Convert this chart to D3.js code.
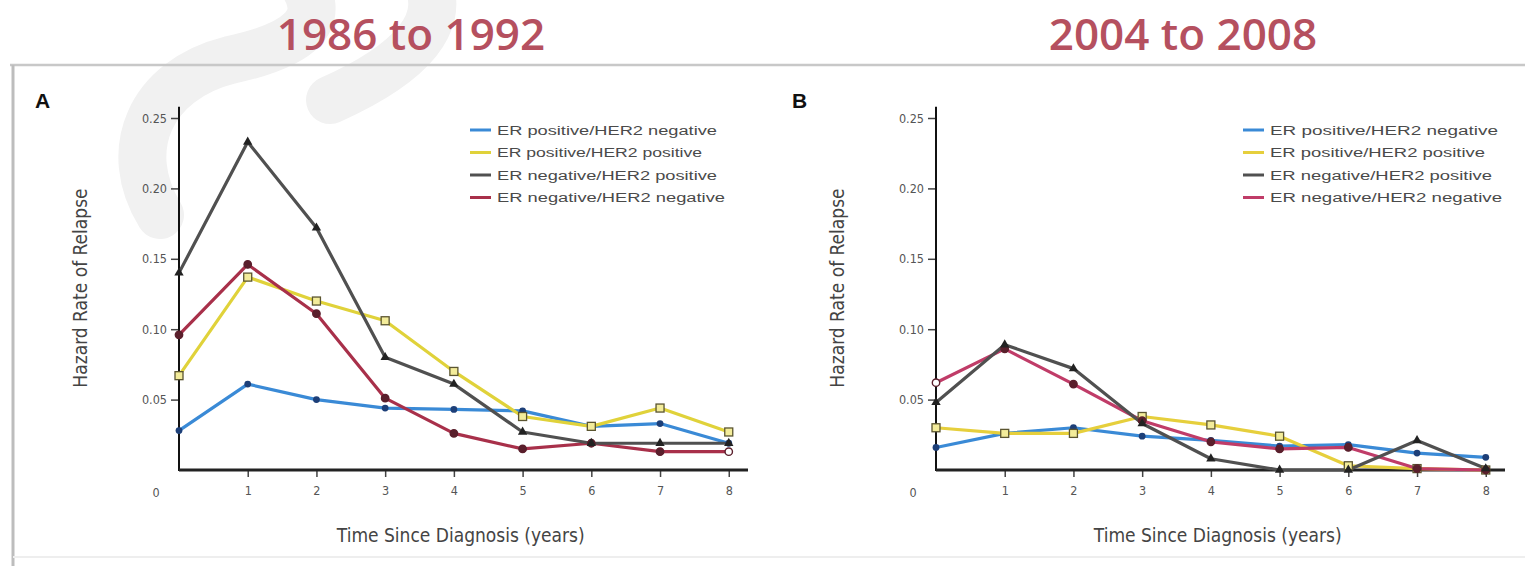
<!DOCTYPE html>
<html>
<head>
  <script src="https://d3js.org/d3.v7.min.js"></script>
  <style>
  body { margin: 0; background: #fff; }
  svg { display: block; }
  .tick text { font-family: 'DejaVu Sans Condensed', 'DejaVu Sans', sans-serif; font-size: 12.5px; fill: #555; }
  .tick line { stroke: #444; stroke-width: 1.5; }
  .title { font-family: 'Open Sans', sans-serif; font-weight: 600; font-size: 44px; fill: #b5505f; }
  .axisTitle { font-family: 'DejaVu Sans Condensed', 'DejaVu Sans', sans-serif; font-size: 19px; fill: #444; }
  .legend text { font-family: 'Liberation Sans', Arial, sans-serif; font-size: 12px; fill: #4a4a4a; }
  .panelLetter { font-family: 'Liberation Sans', Arial, sans-serif; font-weight: bold; font-size: 21px; fill: #111; }
</style>
</head>
<body>
<svg id="chart" width="1525" height="566"></svg>
<script>
// time since diagnosis, years
var years = [0, 1, 2, 3, 4, 5, 6, 7, 8];
var seriesNames = ["ER positive/HER2 negative", "ER positive/HER2 positive",
                   "ER negative/HER2 positive", "ER negative/HER2 negative"];
var yTicks = [0.05, 0.10, 0.15, 0.20, 0.25];
var xTicks = [1, 2, 3, 4, 5, 6, 7, 8];

// 1986 to 1992 (panel A)
var earlyPosNeg = [0.028, 0.061, 0.050, 0.044, 0.043, 0.042, 0.031, 0.033, 0.019];
var earlyPosPos = [0.067, 0.137, 0.120, 0.106, 0.070, 0.038, 0.031, 0.044, 0.027];
var earlyNegPos = [0.140, 0.233, 0.172, 0.080, 0.061, 0.027, 0.019, 0.019, 0.019];
var earlyNegNeg = [0.096, 0.146, 0.111, 0.051, 0.026, 0.015, 0.019, 0.013, 0.013];

// 2004 to 2008 (panel B)
var latePosNeg = [0.016, 0.026, 0.030, 0.024, 0.021, 0.017, 0.018, 0.012, 0.009];
var latePosPos = [0.030, 0.026, 0.026, 0.038, 0.032, 0.024, 0.003, 0.001, 0.000];
var lateNegPos = [0.048, 0.089, 0.072, 0.033, 0.008, 0.000, 0.000, 0.021, 0.001];
var lateNegNeg = [0.062, 0.086, 0.061, 0.035, 0.020, 0.015, 0.016, 0.001, 0.000];

var markerFill = ["#1d3f78", "#f3ec9a", "#222", "#5a1f2c"];

var svg = d3.select("#chart");

// faint watermark stroke
svg.append("path")
  .attr("d", "M160,215 C120,150 150,80 230,60 C300,45 330,20 300,-20 M330,100 C420,60 440,20 430,-10")
  .attr("fill", "none").attr("stroke", "#f1f1f1").attr("stroke-width", 48).attr("stroke-linecap", "round");

// frame lines
svg.append("line").attr("x1", 10).attr("x2", 1525).attr("y1", 65).attr("y2", 65)
  .attr("stroke", "#c8c8c8").attr("stroke-width", 2.5);
svg.append("line").attr("x1", 13).attr("x2", 13).attr("y1", 65).attr("y2", 566)
  .attr("stroke", "#bdbdbd").attr("stroke-width", 3);
svg.append("line").attr("x1", 13).attr("x2", 1525).attr("y1", 557).attr("y2", 557)
  .attr("stroke", "#eeeeee").attr("stroke-width", 2);

function drawPanel(opt, data) {
  var x = d3.scaleLinear().domain([0, 8.28]).range([opt.left, opt.left + 569]);
  var y = d3.scaleLinear().domain([0, 0.25]).range([470, 118]);
  var colors = opt.colors;

  svg.append("text").attr("class", "title")
    .attr("x", opt.titleX).attr("y", 50).attr("text-anchor", "middle").text(opt.title);
  svg.append("text").attr("class", "panelLetter")
    .attr("x", opt.letterX).attr("y", 108).text(opt.letter);

  var g = svg.append("g");

  // y axis
  var ya = g.append("g").attr("transform", "translate(" + opt.left + ",0)")
    .call(d3.axisLeft(y).tickValues(yTicks).tickSize(8).tickPadding(4).tickFormat(d3.format(".2f")));
  ya.select(".domain").remove();
  g.append("line").attr("x1", opt.left).attr("x2", opt.left)
    .attr("y1", y(0.258)).attr("y2", 471).attr("stroke", "#111").attr("stroke-width", 2);

  // x axis
  var xa = g.append("g").attr("transform", "translate(0,470)")
    .call(d3.axisBottom(x).tickValues(xTicks).tickSize(7).tickPadding(9).tickFormat(d3.format("d")));
  xa.select(".domain").remove();
  g.append("line").attr("x1", opt.left).attr("x2", x(8.28))
    .attr("y1", 470).attr("y2", 470).attr("stroke", "#222").attr("stroke-width", 3);
  g.append("text").attr("x", opt.left - 23).attr("y", 497)
    .attr("text-anchor", "middle")
    .style("font-family", "DejaVu Sans Condensed, sans-serif").style("font-size", "12.5px").style("fill", "#555")
    .text("0");

  // axis titles
  g.append("text").attr("class", "axisTitle")
    .attr("transform", "translate(" + (opt.left - 92) + ",288) rotate(-90)")
    .attr("text-anchor", "middle").text("Hazard Rate of Relapse");
  g.append("text").attr("class", "axisTitle")
    .attr("x", x(4.1)).attr("y", 542).attr("text-anchor", "middle")
    .text("Time Since Diagnosis (years)");

  var line = d3.line().x(function (d, i) { return x(years[i]); }).y(function (d) { return y(d); });

  var order = [0, 1, 3, 2];
  order.forEach(function (s) {
    g.append("path").datum(data[s])
      .attr("fill", "none").attr("stroke", colors[s]).attr("stroke-width", 3.2)
      .attr("stroke-linejoin", "round").attr("d", line);
  });
  order.forEach(function (s) {
    var pts = g.selectAll(null).data(data[s]).enter();
    if (s === 0) {
      pts.append("circle").attr("cx", function (d, i) { return x(years[i]); })
        .attr("cy", function (d) { return y(d); }).attr("r", 3.4).attr("fill", markerFill[0]);
    } else if (s === 1) {
      pts.append("rect").attr("x", function (d, i) { return x(years[i]) - 4; })
        .attr("y", function (d) { return y(d) - 4; }).attr("width", 8).attr("height", 8)
        .attr("fill", markerFill[1]).attr("stroke", "#5b5530").attr("stroke-width", 1.3);
    } else if (s === 2) {
      pts.append("path").attr("d", d3.symbol().type(d3.symbolTriangle).size(38))
        .attr("transform", function (d, i) { return "translate(" + x(years[i]) + "," + y(d) + ")"; })
        .attr("fill", markerFill[2]);
    } else {
      pts.append("circle").attr("cx", function (d, i) { return x(years[i]); })
        .attr("cy", function (d) { return y(d); }).attr("r", 3.7)
        .attr("fill", function (d, i) { return opt.openRed.indexOf(i) >= 0 ? "#fff" : markerFill[3]; })
        .attr("stroke", "#5a1f2c").attr("stroke-width", 1.4);
    }
  });

  // legend
  var lg = g.append("g").attr("class", "legend")
    .attr("transform", "translate(" + opt.legendX + ",130)");
  seriesNames.forEach(function (name, i) {
    lg.append("line").attr("x1", 0).attr("x2", 21).attr("y1", i * 22.5).attr("y2", i * 22.5)
      .attr("stroke", colors[i]).attr("stroke-width", 3);
    lg.append("text").attr("x", 27).attr("y", i * 22.5 + 4.5)
      .attr("textLength", opt.legendW[i]).attr("lengthAdjust", "spacingAndGlyphs").text(name);
  });
}

drawPanel({ left: 179, title: "1986 to 1992", titleX: 411, letter: "A", letterX: 35,
            legendX: 470, legendW: [220, 205, 220, 228], openRed: [8],
            colors: ["#3a8ad6", "#e0d23a", "#505050", "#a8304a"] },
          [earlyPosNeg, earlyPosPos, earlyNegPos, earlyNegNeg]);
drawPanel({ left: 936, title: "2004 to 2008", titleX: 1183, letter: "B", letterX: 792,
            legendX: 1243, legendW: [228, 215, 222, 232], openRed: [0],
            colors: ["#3a8ad6", "#e6cf3c", "#505050", "#c03c68"] },
          [latePosNeg, latePosPos, lateNegPos, lateNegNeg]);
</script>
</body>
</html>
